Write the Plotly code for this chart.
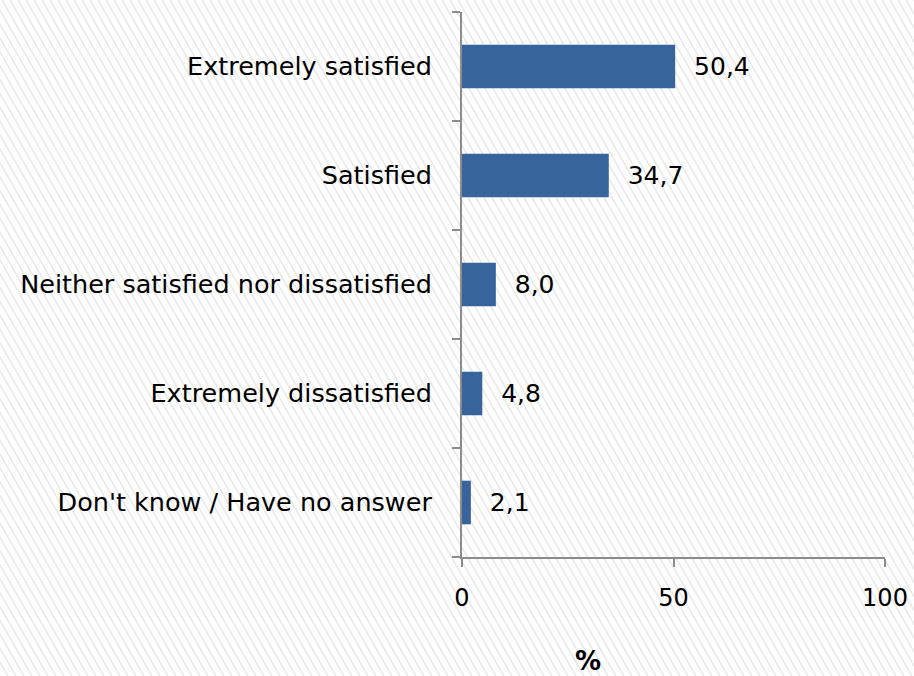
import plotly.graph_objects as go

categories = [
    "Don't know / Have no answer",
    "Extremely dissatisfied",
    "Neither satisfied nor dissatisfied",
    "Satisfied",
    "Extremely satisfied",
]
values = [2.1, 4.8, 8.0, 34.7, 50.4]
x_ticks = [0, 50, 100]
x_title = "%"

W, H = 914, 676
L, R, T, B = 462, 29, 12, 119
plot_w = W - L - R
plot_h = H - T - B

FONT = "DejaVu Sans"
FS = 25.5
BAR = "#38649c"
AXIS = "#8c8c8c"

fig = go.Figure(
    go.Bar(
        x=values,
        y=categories,
        orientation="h",
        marker=dict(color=BAR, line=dict(width=0)),
        width=0.4,
        texttemplate="\u00a0\u00a0%{x:.1f}",
        textposition="outside",
        textfont=dict(family=FONT, size=25, color="#000000"),
        cliponaxis=False,
        hoverinfo="skip",
    )
)


def px_to_paper(px, py):
    return (px - L) / plot_w, (H - B - py) / plot_h


# light diagonal hatching over the whole page background
shapes = []
step = 8
slant = 390
for x0 in range(-slant, W + step, step):
    ax, ay = px_to_paper(x0, 0)
    bx, by = px_to_paper(x0 + slant, H)
    shapes.append(
        dict(
            type="line", xref="paper", yref="paper",
            x0=ax, y0=ay, x1=bx, y1=by,
            line=dict(color="#e9e9e9", width=1.6),
            layer="below",
        )
    )

px_, py_ = px_to_paper(588, 661)

fig.update_layout(
    width=W,
    height=H,
    margin=dict(l=L, r=R, t=T, b=B),
    paper_bgcolor="#ffffff",
    plot_bgcolor="rgba(0,0,0,0)",
    separators=",.",
    showlegend=False,
    font=dict(family=FONT, size=FS, color="#000000"),
    shapes=shapes,
    xaxis=dict(
        range=[0, 100],
        tickvals=x_ticks,
        ticktext=[str(t) for t in x_ticks],
        showgrid=False,
        zeroline=False,
        showline=True,
        linecolor=AXIS,
        linewidth=2,
        ticks="outside",
        ticklen=8,
        tickwidth=2,
        tickcolor=AXIS,
        ticklabelstandoff=10,
        tickfont=dict(family=FONT, size=24, color="#000000"),
        automargin=False,
        fixedrange=True,
    ),
    yaxis=dict(
        categoryorder="array",
        categoryarray=categories,
        showgrid=False,
        showline=True,
        linecolor=AXIS,
        linewidth=2,
        ticks="outside",
        tickson="boundaries",
        ticklen=8,
        tickwidth=2,
        tickcolor=AXIS,
        ticklabelstandoff=23,
        tickfont=dict(family=FONT, size=FS, color="#000000"),
        automargin=False,
        fixedrange=True,
    ),
    annotations=[
        dict(
            text="<b>" + x_title + "</b>", xref="paper", yref="paper",
            x=px_, y=py_, xanchor="center", yanchor="middle",
            showarrow=False,
            font=dict(family=FONT, size=26, color="#000000"),
        )
    ],
)

fig.write_html("out.html")
